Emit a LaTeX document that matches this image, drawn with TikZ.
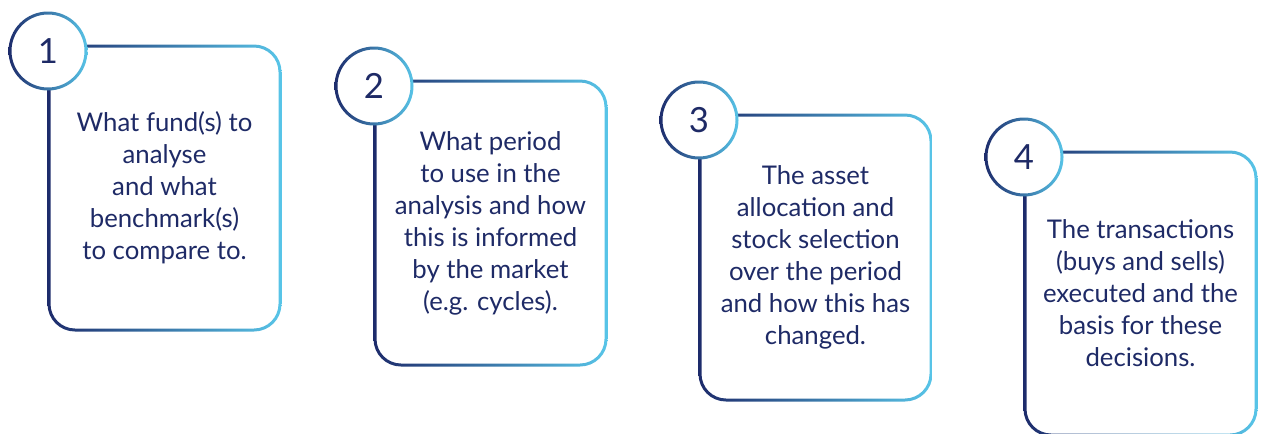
\documentclass[tikz,border=0pt]{standalone}
\usepackage{fontspec}
\setmainfont{Lato}
\definecolor{navy}{HTML}{1D2B6B}
\definecolor{sky}{HTML}{58C5E8}
\definecolor{ink}{HTML}{1E2A66}

\tikzset{
  cardtext/.style={text=ink, align=center, inner sep=0pt,
    font=\fontsize{19.3}{24}\selectfont},
  badge/.style={circle, fill=white, inner sep=0pt, minimum size=57pt,
    text=ink, font=\fontsize{26}{26}\selectfont},
  ramp/.style={left color=navy, right color=sky}
}

% #1 id, #2 left edge, #3 top edge, #4 bottom edge, #5 number, #6 text
\newcommand\stagecard[6]{%
  \begin{scope}[even odd rule]
    \clip[rounded corners=20.6pt]
      ({#2-1.5},{#3-1.5}) rectangle ({#2+232.5},{#4+1.5})
      [rounded corners=18.4pt]
      ({#2+1.5},{#3+1.5}) rectangle ({#2+229.5},{#4-1.5});
    \shade[ramp] ({#2-1.5},{#3-1.5}) rectangle ({#2+232.5},{#4+1.5});
  \end{scope}
  \node[cardtext] (t#1) at ({#2+115.5},{(#3+#4)/2}) {#6};
  \node[badge] (b#1) at ({#2-1},{#3+5}) {#5};
  \begin{scope}[even odd rule]
    \clip (b#1.center) circle[radius=39.5]
          (b#1.center) circle[radius=36.5];
    \shade[ramp] ({#2-41},{#3-35}) rectangle ({#2+39},{#3+45});
  \end{scope}
}

\begin{document}
\begin{tikzpicture}[x=0.75pt, y=-0.75pt]
  \useasboundingbox (0,0) rectangle (1262,433);
  \clip (0,0) rectangle (1262,433);
  \stagecard{1}{49}{46}{330}{1}{What fund(s) to\\analyse\\and what\\benchmark(s)\\to compare to.}
  \stagecard{2}{375}{81}{365}{2}{What period\\to use in the\\analysis and how\\this is informed\\by the market\\(e.g. cycles).}
  \stagecard{3}{700}{115}{400}{3}{The asset\\allocation and\\stock selection\\over the period\\and how this has\\changed.}
  \stagecard{4}{1025}{152}{435}{4}{The transactions\\(buys and sells)\\executed and the\\basis for these\\decisions.}
\end{tikzpicture}
\end{document}
